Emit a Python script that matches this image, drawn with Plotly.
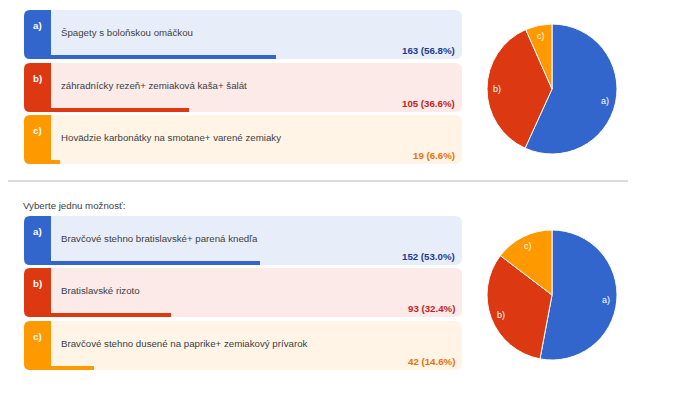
import math
import plotly.graph_objects as go

# ---- data ----
letters = ["a)", "b)", "c)"]
q1_options = ["Špagety s boloňskou omáčkou",
              "záhradnícky rezeň+ zemiaková kaša+ šalát",
              "Hovädzie karbonátky na smotane+ varené zemiaky"]
q1_counts = [163, 105, 19]
q1_pct = [56.8, 36.6, 6.6]

q2_title = "Vyberte jednu možnosť:"
q2_options = ["Bravčové stehno bratislavské+ parená knedľa",
              "Bratislavské rizoto",
              "Bravčové stehno dusené na paprike+ zemiakový prívarok"]
q2_counts = [152, 93, 42]
q2_pct = [53.0, 32.4, 14.6]

# ---- style / layout ----
main_cols = ["#3366cc", "#dc3912", "#ff9900"]
bg_cols = ["#e8eef9", "#fbeae7", "#fff4e5"]
count_cols = ["#1a3a99", "#c5221f", "#e8710a"]
W, H = 675, 398
OFF = 8            # page body margin: plot div sits 8px in from the window edge
X0, TAB, X1 = 24, 51, 462
BAR0, BAR_FULL = 30.5, 432   # bar origin and length of a 100% bar (px)
CARD_H = 49
q1_tops = [10, 63, 115]
q2_tops = [216, 268, 321]
PIE_R = 65
FS = 9.7


def rr(x0, y0, x1, y1, tl, tr, br, bl):
    return (f"M{x0+tl},{y0} L{x1-tr},{y0} Q{x1},{y0} {x1},{y0+tr} "
            f"L{x1},{y1-br} Q{x1},{y1} {x1-br},{y1} L{x0+bl},{y1} "
            f"Q{x0},{y1} {x0},{y1-bl} L{x0},{y0+tl} Q{x0},{y0} {x0+tl},{y0} Z")


def px_x(x):
    return (x - OFF) / W


def px_y(y):
    return 1 - (y - OFF) / H


fig = go.Figure()
shapes = []
annotations = []


def add_poll(tops, options, counts, pct, cx, cy):
    ys = []
    for i, t in enumerate(tops):
        b = t + CARD_H
        shapes.append(dict(type="path", path=rr(TAB, t, X1, b, 0, 7, 7, 0),
                           fillcolor=bg_cols[i], line=dict(width=0), layer="below",
                           xref="x", yref="y"))
        shapes.append(dict(type="path", path=rr(X0, t, TAB, b, 6, 0, 0, 6),
                           fillcolor=main_cols[i], line=dict(width=0), layer="below",
                           xref="x", yref="y"))
        annotations.append(dict(x=37, y=t + 15, text=f"<b>{letters[i]}</b>",
                                showarrow=False, xref="x", yref="y",
                                font=dict(color="white", size=FS)))
        annotations.append(dict(x=59, y=t + 22, text=options[i], xanchor="left",
                                showarrow=False, xref="x", yref="y",
                                font=dict(color="#3c4043", size=FS)))
        annotations.append(dict(x=457, y=t + 40, text=f"<b>{counts[i]} ({pct[i]:.1f}%)</b>",
                                xanchor="right", showarrow=False, xref="x", yref="y",
                                font=dict(color=count_cols[i], size=FS)))
        ys.append(b - 2)
    fig.add_trace(go.Bar(x=pct, y=ys, orientation="h", width=4,
                         marker=dict(color=main_cols, line=dict(width=0)),
                         xaxis="x2", yaxis="y", hoverinfo="skip", showlegend=False))
    fig.add_trace(go.Pie(labels=letters, values=counts, sort=False, direction="clockwise",
                         rotation=0, marker=dict(colors=main_cols, line=dict(color="white", width=1)),
                         textinfo="none",
                         domain=dict(x=[px_x(cx - PIE_R), px_x(cx + PIE_R)],
                                     y=[px_y(cy + PIE_R), px_y(cy - PIE_R)]),
                         showlegend=False, hoverinfo="label+value+percent"))
    # slice labels placed at the mid-angle of each slice
    tot = sum(counts)
    acc = 0
    for i, c in enumerate(counts):
        mid = (acc + c / 2) / tot * 2 * math.pi
        acc += c
        r = 0.84 * PIE_R
        annotations.append(dict(x=cx + r * math.sin(mid), y=cy - r * math.cos(mid),
                                text=letters[i], showarrow=False, xref="x", yref="y",
                                font=dict(color="white", size=9)))


add_poll(q1_tops, q1_options, q1_counts, q1_pct, 552, 89)
add_poll(q2_tops, q2_options, q2_counts, q2_pct, 552, 295)

# separator and question title
shapes.append(dict(type="line", x0=0, x1=628, y0=181, y1=181, xref="x", yref="y",
                   line=dict(color="#dadce0", width=2), layer="below"))
annotations.append(dict(x=21, y=205, text=q2_title, xanchor="left", showarrow=False,
                        xref="x", yref="y", font=dict(color="#3c4043", size=FS)))

fig.update_layout(
    width=W, height=H, margin=dict(l=0, r=0, t=0, b=0),
    paper_bgcolor="white", plot_bgcolor="rgba(0,0,0,0)",
    font=dict(family="Arial, Liberation Sans, sans-serif"),
    xaxis=dict(range=[OFF, W + OFF], visible=False, fixedrange=True, domain=[0, 1]),
    xaxis2=dict(range=[0, 100 * (W + OFF - BAR0) / BAR_FULL], domain=[px_x(BAR0), 1],
                visible=False, fixedrange=True, anchor="y"),
    yaxis=dict(range=[H + OFF, OFF], visible=False, fixedrange=True, domain=[0, 1]),
    shapes=shapes, annotations=annotations, bargap=0,
)

fig.write_html("out.html")
